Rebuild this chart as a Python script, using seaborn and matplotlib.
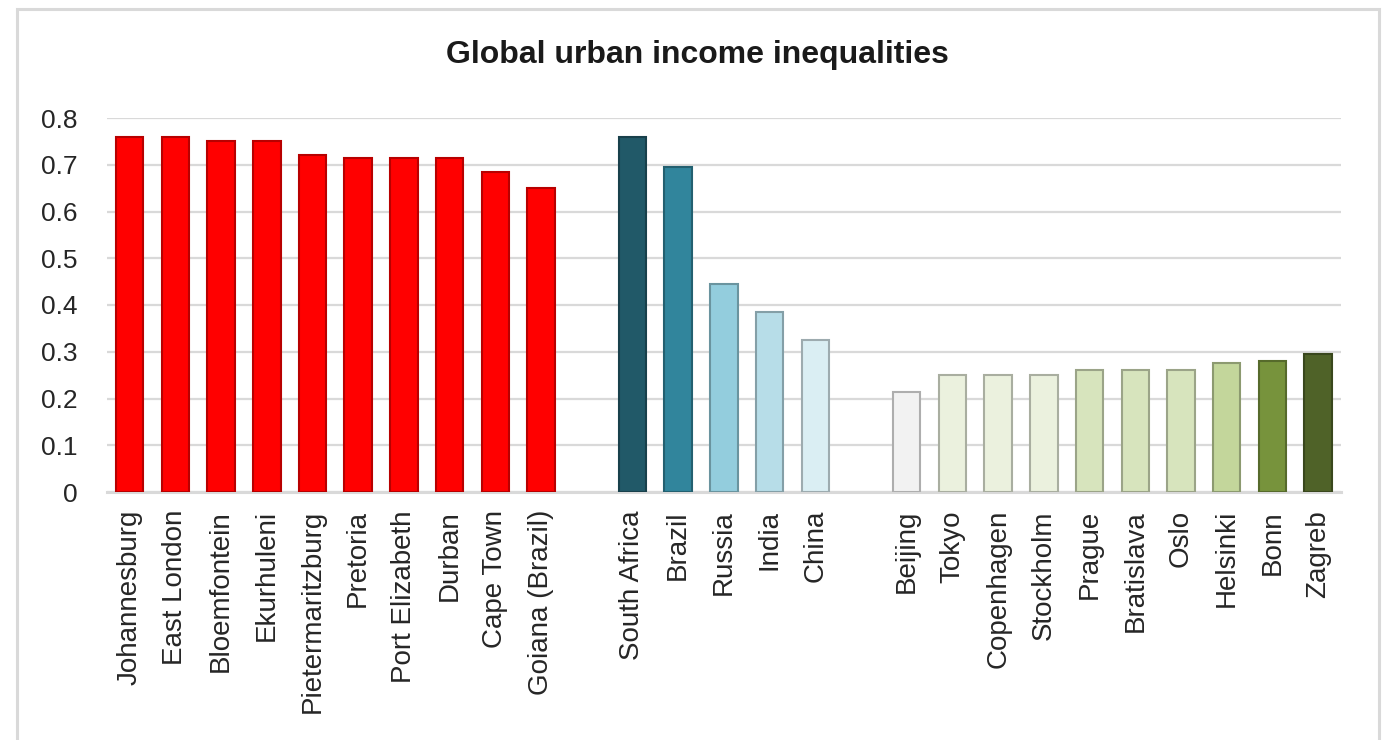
import matplotlib
matplotlib.use("Agg")
import matplotlib.pyplot as plt
import matplotlib.colors as mcolors
from matplotlib.patches import Rectangle
import seaborn as sns
import pandas as pd

sa_cities = ["Johannesburg", "East London", "Bloemfontein", "Ekurhuleni",
             "Pietermaritzburg", "Pretoria", "Port Elizabeth", "Durban",
             "Cape Town", "Goiana (Brazil)"]
sa_values = [0.76, 0.76, 0.75, 0.75, 0.72, 0.715, 0.715, 0.715, 0.685, 0.65]

countries = ["South Africa", "Brazil", "Russia", "India", "China"]
country_values = [0.76, 0.695, 0.445, 0.385, 0.325]

low_cities = ["Beijing", "Tokyo", "Copenhagen", "Stockholm", "Prague",
              "Bratislava", "Oslo", "Helsinki", "Bonn", "Zagreb"]
low_values = [0.213, 0.25, 0.25, 0.25, 0.26, 0.26, 0.26, 0.275, 0.28, 0.296]

sa_colors = ["#FF0000"] * 10
country_colors = ["#215968", "#31859C", "#93CDDD", "#B7DDE8", "#DAEEF3"]
low_colors = ["#F2F2F2", "#EBF1DE", "#EBF1DE", "#EBF1DE", "#D7E4BD",
              "#D7E4BD", "#D7E4BD", "#C3D69B", "#77933C", "#4F6228"]

title = "Global urban income inequalities"
yticks = [0, 0.1, 0.2, 0.3, 0.4, 0.5, 0.6, 0.7, 0.8]
ytick_labels = ["0", "0.1", "0.2", "0.3", "0.4", "0.5", "0.6", "0.7", "0.8"]

gap1, gap2 = " ", "  "
order = sa_cities + [gap1] + countries + [gap2] + low_cities

df = pd.DataFrame({
    "name": sa_cities + countries + low_cities,
    "value": sa_values + country_values + low_values,
})
palette = dict(zip(sa_cities + countries + low_cities,
                   sa_colors + country_colors + low_colors))

sns.set_theme(style="white")
plt.rcParams["font.family"] = ["Liberation Sans", "DejaVu Sans"]

W, H = 1388, 740
fig = plt.figure(figsize=(W / 100, H / 100), dpi=100)
left_px, right_px, top_px, bottom_px = 106.8, 1341.0, 118.0, 492.0
ax = fig.add_axes([left_px / W, 1 - bottom_px / H,
                   (right_px - left_px) / W, (bottom_px - top_px) / H])

sns.barplot(data=df, x="name", y="value", hue="name", order=order,
            hue_order=df["name"].tolist(), palette=palette, dodge=False,
            width=0.6, legend=False, ax=ax, zorder=3, saturation=1)

def darker(c, f=0.7):
    r, g, b = mcolors.to_rgb(c)
    return (r * f, g * f, b * f)

for p in ax.patches:
    fc = p.get_facecolor()
    p.set_edgecolor(darker(fc, 0.72))
    p.set_linewidth(1.5)

ax.set_ylim(0, 0.8)
ax.set_xlim(-0.5, len(order) - 0.5)
ax.set_yticks(yticks)
ax.set_yticklabels(ytick_labels, fontsize=19, color="#262626")
ax.yaxis.grid(True, color="#D9D9D9", linewidth=1.6, zorder=0)
ax.set_axisbelow(True)
ax.set_xlabel("")
ax.set_ylabel("")
ax.tick_params(axis="x", rotation=90, labelsize=20, length=0, pad=13,
               colors="#262626")
ax.tick_params(axis="y", length=0, pad=21)
for s in ["top", "right", "left"]:
    ax.spines[s].set_visible(False)
ax.spines["bottom"].set_color("#D9D9D9")
ax.spines["bottom"].set_linewidth(2.2)

fig.text(697 / W, 1 - 55 / H, title, ha="center", va="center", fontsize=23,
         fontweight="bold", color="#1a1a1a")

frame = Rectangle((17 / W, -0.05), (1379 - 17) / W, 1.05 - 9 / H,
                  transform=fig.transFigure, fill=False, edgecolor="#D9D9D9",
                  linewidth=2.2, zorder=0)
fig.patches.append(frame)

fig.savefig("out.png", dpi=100, facecolor="white")
